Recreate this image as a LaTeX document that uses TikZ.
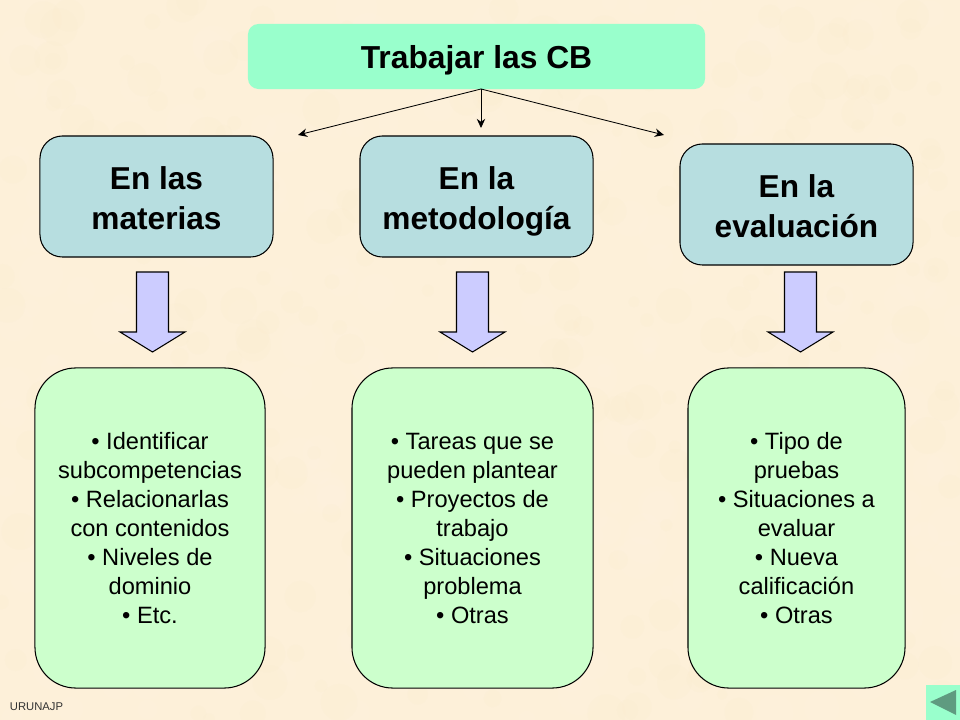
\documentclass[tikz,border=0pt]{standalone}
\usepackage{fontspec}
\setmainfont{Liberation Sans}
\usepackage{tikz}
\usetikzlibrary{arrows.meta}
\definecolor{fondo}{HTML}{FDF0D9}
\definecolor{manchaclara}{HTML}{FFF7E8}
\definecolor{manchaoscura}{HTML}{FBE8C4}
\definecolor{verdetop}{HTML}{99FFCC}
\definecolor{azulbox}{HTML}{B7DEE0}
\definecolor{verdebox}{HTML}{CCFFCC}
\definecolor{lila}{HTML}{CCCCFF}
\definecolor{verdeboton}{HTML}{99FFCC}
\definecolor{verdetri}{HTML}{5F9B80}
\newcommand{\alto}{\vphantom{Ág}}
\newcommand{\arriba}[1]{\rule{0pt}{#1em}}
\tikzset{
	titulo/.style={draw=none, fill=verdetop, rounded corners=7.5pt, text depth=0pt, font=\fontsize{22.6}{26}\selectfont\bfseries, align=center},
	rama/.style={draw=black, line width=0.75pt, fill=azulbox, rounded corners=16pt, minimum width=5.825cm, minimum height=3.025cm, font=\fontsize{22.5}{28}\selectfont\bfseries, align=center},
	lista/.style={draw=black, line width=0.75pt, fill=verdebox, rounded corners=29pt, minimum height=8cm, font=\fontsize{16.8}{20.6}\selectfont, align=center},
	flecha/.style={draw=black, line width=0.75pt, fill=lila, line join=miter},
	conector/.style={-{Stealth[length=6.5pt,width=6pt]}, line width=0.6pt},
	mancha/.style={opacity=0.1}
}
\begin{document}
\begin{tikzpicture}[x=0.025cm, y=-0.025cm]
	% fondo
	\fill[fondo] (0,0) rectangle (960,720);
	\useasboundingbox (0,0) rectangle (960,720);
	\pgfmathsetseed{41}
	\begin{scope}
		\clip (0,0) rectangle (960,720);
		\foreach \i in {1,...,300} {
			\pgfmathsetmacro{\mx}{960*rnd}
			\pgfmathsetmacro{\my}{720*rnd}
			\pgfmathsetmacro{\mr}{6+16*rnd}
			\fill[mancha, manchaclara] (\mx,\my) circle (\mr);
			\pgfmathsetmacro{\mx}{960*rnd}
			\pgfmathsetmacro{\my}{720*rnd}
			\pgfmathsetmacro{\mr}{5+14*rnd}
			\fill[mancha, manchaoscura] (\mx,\my) circle (\mr);
		}
	\end{scope}

	% caja superior
	\node[titulo, minimum width=11.425cm, minimum height=1.625cm] (top) at (476.5,56.5) {Trabajar las CB};

	% ramas
	\node[rama] (materias) at (156.5,196.5) {\arriba{1.03}En las\\materias\alto};
	\node[rama] (metodo) at (476.5,196.5) {\arriba{1.03}En la\\metodología\alto};
	\node[rama] (evalua) at (796.5,204.5) {\arriba{1.03}En la\\evaluación\alto};

	% puntas libres
	\coordinate (pm) at (298,135);
	\coordinate (pc) at (481,128);
	\coordinate (pe) at (664,135);
	\coordinate (origen) at (481,89);
	\draw[conector] (origen) -- (pm);
	\draw[conector] (origen) -- (pc);
	\draw[conector] (origen) -- (pe);

	% flechas gruesas
	\foreach \x in {152.5,472.5,800.5}
		\draw[flecha] (\x-16,272) -- (\x+16,272) -- (\x+16,332) -- (\x+32.5,332) -- (\x,352) -- (\x-32.5,332) -- (\x-16,332) -- cycle;

	% listas
	\node[lista, minimum width=5.75cm] (lista1) at (150,528) {\arriba{0.9}• Identificar\\subcompetencias\\• Relacionarlas\\con contenidos\\• Niveles de\\dominio\\• Etc.\alto};
	\node[lista, minimum width=6.025cm] (lista2) at (472.5,528) {\arriba{0.9}• Tareas que se\\pueden plantear\\• Proyectos de\\trabajo\\• Situaciones\\problema\\• Otras\alto};
	\node[lista, minimum width=5.425cm] (lista3) at (796.5,528) {\arriba{0.9}• Tipo de\\pruebas\\• Situaciones a\\evaluar\\• Nueva\\calificación\\• Otras\alto};

	% pie y boton
	\node[font=\fontsize{8}{9}\selectfont, text=black!80] (firma) at (36.5,707) {URUNAJP};
	\fill[verdeboton] (926,685) rectangle (960,720);
	\fill[verdetri] (956,690) -- (956,715) -- (930,702) -- cycle;
\end{tikzpicture}
\end{document}
